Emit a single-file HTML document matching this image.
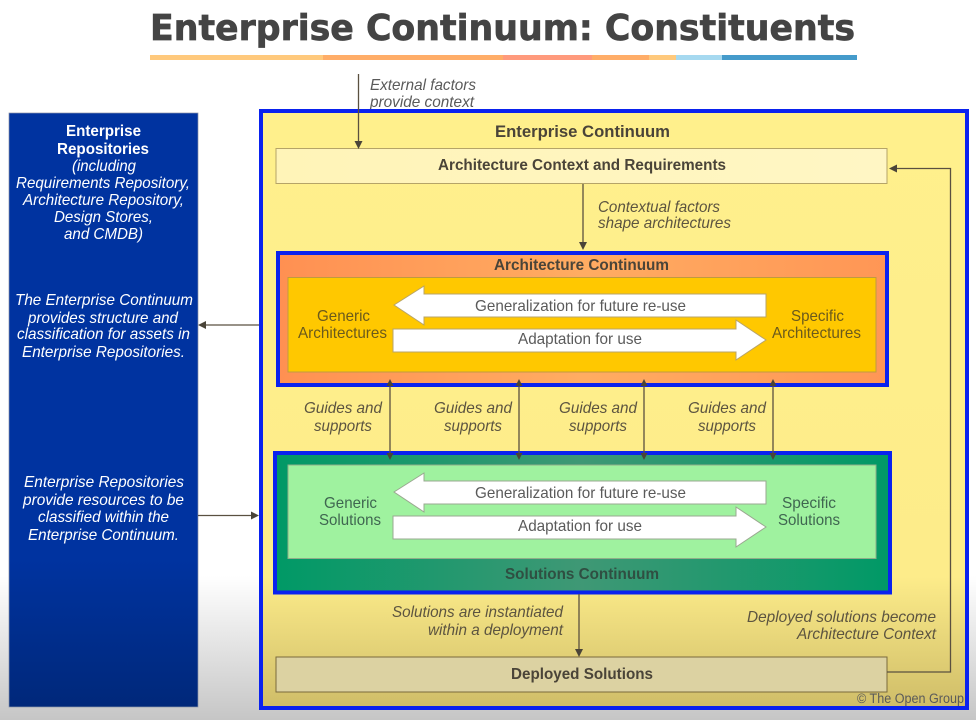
<!DOCTYPE html>
<html><head><meta charset="utf-8"><style>
html,body{margin:0;padding:0;background:#fff}
svg{display:block;filter:blur(.35px)}
text{font-family:"Liberation Sans",sans-serif;font-size:16px;fill:#555}
.i{font-style:italic;fill:#5c5440}
.b{font-weight:bold;fill:#4a4438;font-size:16px}
.w{font-style:italic;fill:#fff}
.wb{font-weight:bold;fill:#fff}
.g{fill:#5a5a5a}
.a{fill:#6b5a1c}
.s{fill:#3f6650}
</style></head><body>
<svg width="976" height="720" viewBox="0 0 976 720" xmlns="http://www.w3.org/2000/svg">
<defs>
<linearGradient id="bg" x1="0" y1="0" x2="0" y2="1"><stop offset="0" stop-color="#fff"/><stop offset=".8" stop-color="#fff"/><stop offset="1" stop-color="#c6c6c6"/></linearGradient>
<linearGradient id="bl" x1="0" y1="0" x2="0" y2="1"><stop offset="0" stop-color="#0033a0"/><stop offset=".75" stop-color="#0033a0"/><stop offset="1" stop-color="#00287a"/></linearGradient>
<linearGradient id="ye" x1="0" y1="0" x2="0" y2="1"><stop offset="0" stop-color="#fff08c"/><stop offset=".78" stop-color="#fdec8a"/><stop offset="1" stop-color="#cfbd68"/></linearGradient>
<linearGradient id="re" x1="0" y1="0" x2="1" y2="0"><stop offset="0" stop-color="#fff4b8"/><stop offset="1" stop-color="#fff6c4"/></linearGradient>
<linearGradient id="or" x1="0" y1="0" x2="1" y2="0"><stop offset="0" stop-color="#ff9052"/><stop offset=".5" stop-color="#ffac62"/><stop offset="1" stop-color="#ff9655"/></linearGradient>
<linearGradient id="gr" x1="0" y1="0" x2="1" y2="0"><stop offset="0" stop-color="#009966"/><stop offset=".5" stop-color="#3f9875"/><stop offset="1" stop-color="#009966"/></linearGradient>
</defs>
<rect width="976" height="720" fill="url(#bg)"/>

<!-- title -->
<text x="150" y="40" textLength="705" lengthAdjust="spacingAndGlyphs" style="font-family:'DejaVu Sans',sans-serif;font-size:36px;font-weight:bold;fill:#444;stroke:#444;stroke-width:.7px">Enterprise Continuum: Constituents</text>
<rect x="150" y="55" width="173" height="5" fill="#ffc97c"/>
<rect x="323" y="55" width="180" height="5" fill="#ffad68"/>
<rect x="503" y="55" width="89" height="5" fill="#ff9a7c"/>
<rect x="592" y="55" width="57" height="5" fill="#ffad68"/>
<rect x="649" y="55" width="27" height="5" fill="#ffc97c"/>
<rect x="676" y="55" width="46" height="5" fill="#a6d9f0"/>
<rect x="722" y="55" width="135" height="5" fill="#459bcb"/>

<!-- external -->
<text class="g" x="370" y="90" textLength="106" lengthAdjust="spacingAndGlyphs" style="font-style:italic">External factors</text>
<text class="g" x="370" y="107" textLength="104" lengthAdjust="spacingAndGlyphs" style="font-style:italic">provide context</text>

<!-- repositories -->
<rect x="9" y="113" width="189" height="594" fill="url(#bl)" stroke="#8a93a8" stroke-width=".7"/>
<text class="wb" x="66" y="136" textLength="75" lengthAdjust="spacingAndGlyphs">Enterprise</text>
<text class="wb" x="57" y="154" textLength="92" lengthAdjust="spacingAndGlyphs">Repositories</text>
<text class="w" x="72" y="171" textLength="64" lengthAdjust="spacingAndGlyphs">(including</text>
<text class="w" x="16" y="188" textLength="174" lengthAdjust="spacingAndGlyphs">Requirements Repository,</text>
<text class="w" x="23" y="205" textLength="161" lengthAdjust="spacingAndGlyphs">Architecture Repository,</text>
<text class="w" x="54" y="222" textLength="99" lengthAdjust="spacingAndGlyphs">Design Stores,</text>
<text class="w" x="64" y="239" textLength="79" lengthAdjust="spacingAndGlyphs">and CMDB)</text>
<text class="w" x="15" y="305" textLength="178" lengthAdjust="spacingAndGlyphs">The Enterprise Continuum</text>
<text class="w" x="28" y="323" textLength="150" lengthAdjust="spacingAndGlyphs">provides structure and</text>
<text class="w" x="17" y="339" textLength="173" lengthAdjust="spacingAndGlyphs">classification for assets in</text>
<text class="w" x="22" y="357" textLength="163" lengthAdjust="spacingAndGlyphs">Enterprise Repositories.</text>
<text class="w" x="24" y="487" textLength="160" lengthAdjust="spacingAndGlyphs">Enterprise Repositories</text>
<text class="w" x="23" y="505" textLength="161" lengthAdjust="spacingAndGlyphs">provide resources to be</text>
<text class="w" x="38" y="522" textLength="131" lengthAdjust="spacingAndGlyphs">classified within the</text>
<text class="w" x="28" y="540" textLength="151" lengthAdjust="spacingAndGlyphs">Enterprise Continuum.</text>

<!-- outer -->
<rect x="261" y="111" width="706" height="597" fill="url(#ye)" stroke="#0a22ee" stroke-width="4"/>
<text class="b" x="495" y="137" textLength="175" lengthAdjust="spacingAndGlyphs" style="font-size:16.500px">Enterprise Continuum</text>

<!-- requirements -->
<rect x="276" y="148.500" width="611" height="35" fill="url(#re)" stroke="#b5a468" stroke-width="1"/>
<text class="b" x="438" y="170" textLength="288" lengthAdjust="spacingAndGlyphs">Architecture Context and Requirements</text>
<text class="i" x="598" y="212" textLength="122" lengthAdjust="spacingAndGlyphs">Contextual factors</text>
<text class="i" x="598" y="228" textLength="133" lengthAdjust="spacingAndGlyphs">shape architectures</text>

<!-- architecture continuum -->
<rect x="278" y="253" width="609" height="132" fill="url(#or)" stroke="#0a22ee" stroke-width="4"/>
<text class="b" x="494" y="270" textLength="175" lengthAdjust="spacingAndGlyphs">Architecture Continuum</text>
<rect x="288" y="277.500" width="588" height="94.500" fill="#ffc800" stroke="#c09a40" stroke-width="1"/>
<polygon points="394,305 424,286 424,294 766,294 766,317 424,317 424,325" fill="#fff" stroke="#b8a468" stroke-width="1"/>
<polygon points="393,329 736,329 736,320 766,340 736,360 736,352 393,352" fill="#fff" stroke="#b8a468" stroke-width="1"/>
<text class="g" x="475" y="311" textLength="211" lengthAdjust="spacingAndGlyphs">Generalization for future re-use</text>
<text class="g" x="518" y="344" textLength="124" lengthAdjust="spacingAndGlyphs">Adaptation for use</text>
<text class="a" x="317" y="321" textLength="53" lengthAdjust="spacingAndGlyphs">Generic</text>
<text class="a" x="298" y="338" textLength="89" lengthAdjust="spacingAndGlyphs">Architectures</text>
<text class="a" x="791" y="321" textLength="53" lengthAdjust="spacingAndGlyphs">Specific</text>
<text class="a" x="772" y="338" textLength="89" lengthAdjust="spacingAndGlyphs">Architectures</text>

<!-- guides -->
<text class="i" x="304" y="413" textLength="78" lengthAdjust="spacingAndGlyphs">Guides and</text>
<text class="i" x="314" y="431" textLength="58" lengthAdjust="spacingAndGlyphs">supports</text>
<text class="i" x="434" y="413" textLength="78" lengthAdjust="spacingAndGlyphs">Guides and</text>
<text class="i" x="444" y="431" textLength="58" lengthAdjust="spacingAndGlyphs">supports</text>
<text class="i" x="559" y="413" textLength="78" lengthAdjust="spacingAndGlyphs">Guides and</text>
<text class="i" x="569" y="431" textLength="58" lengthAdjust="spacingAndGlyphs">supports</text>
<text class="i" x="688" y="413" textLength="78" lengthAdjust="spacingAndGlyphs">Guides and</text>
<text class="i" x="698" y="431" textLength="58" lengthAdjust="spacingAndGlyphs">supports</text>

<!-- solutions continuum -->
<rect x="275" y="453" width="615" height="139.500" fill="url(#gr)" stroke="#0a22ee" stroke-width="4"/>
<rect x="288" y="465" width="588" height="93.500" fill="#9ff29f" stroke="#8fae88" stroke-width="1"/>
<polygon points="394,492 424,473 424,481 766,481 766,504 424,504 424,512" fill="#fff" stroke="#9aa890" stroke-width="1"/>
<polygon points="393,516 736,516 736,507 766,527 736,547 736,539 393,539" fill="#fff" stroke="#9aa890" stroke-width="1"/>
<text class="g" x="475" y="498" textLength="211" lengthAdjust="spacingAndGlyphs">Generalization for future re-use</text>
<text class="g" x="518" y="531" textLength="124" lengthAdjust="spacingAndGlyphs">Adaptation for use</text>
<text class="s" x="324" y="508" textLength="53" lengthAdjust="spacingAndGlyphs">Generic</text>
<text class="s" x="319" y="525" textLength="62" lengthAdjust="spacingAndGlyphs">Solutions</text>
<text class="s" x="782" y="508" textLength="54" lengthAdjust="spacingAndGlyphs">Specific</text>
<text class="s" x="778" y="525" textLength="62" lengthAdjust="spacingAndGlyphs">Solutions</text>
<text x="505" y="579" textLength="154" lengthAdjust="spacingAndGlyphs" style="font-weight:bold;fill:#2f4f42">Solutions Continuum</text>

<!-- deployed -->
<text class="i" x="392" y="617" textLength="171" lengthAdjust="spacingAndGlyphs">Solutions are instantiated</text>
<text class="i" x="428" y="635" textLength="135" lengthAdjust="spacingAndGlyphs">within a deployment</text>
<text class="i" x="747" y="622" textLength="189" lengthAdjust="spacingAndGlyphs">Deployed solutions become</text>
<text class="i" x="797" y="639" textLength="139" lengthAdjust="spacingAndGlyphs">Architecture Context</text>
<rect x="276" y="657" width="611" height="35" fill="#dcd2a2" stroke="#7a6a3c" stroke-width="1"/>
<text class="b" x="511" y="679" textLength="142" lengthAdjust="spacingAndGlyphs">Deployed Solutions</text>
<text class="g" x="857" y="703" textLength="107" lengthAdjust="spacingAndGlyphs" style="font-size:13.500px">© The Open Group</text>

<!-- connectors -->
<g fill="none" stroke="#5a5040" stroke-width="1.300">
<path d="M358.500 74V142"/>
<path d="M583 184V244"/>
<path d="M579 594V651"/>
<path d="M259 325H204"/>
<path d="M198 515.500H253"/>
<path d="M390 384V455M519 384V455M644 384V455M773 384V455"/>
<path d="M887 672H950.500V168.500H895"/>
</g>
<g fill="#4a4438">
<polygon points="358.500,149 354.500,141 362.500,141"/>
<polygon points="583,250 579,242 587,242"/>
<polygon points="579,657 575,649 583,649"/>
<polygon points="198,325 206,321 206,329"/>
<polygon points="259,515.500 251,511.500 251,519.500"/>
<polygon points="889,168.500 897,164.500 897,172.500"/>
<polygon points="390,379 386.500,386 393.500,386"/><polygon points="519,379 515.500,386 522.500,386"/><polygon points="644,379 640.500,386 647.500,386"/><polygon points="773,379 769.500,386 776.500,386"/>
<polygon points="390,460 386.500,453 393.500,453"/><polygon points="519,460 515.500,453 522.500,453"/><polygon points="644,460 640.500,453 647.500,453"/><polygon points="773,460 769.500,453 776.500,453"/>
</g>
</svg>
</body></html>
